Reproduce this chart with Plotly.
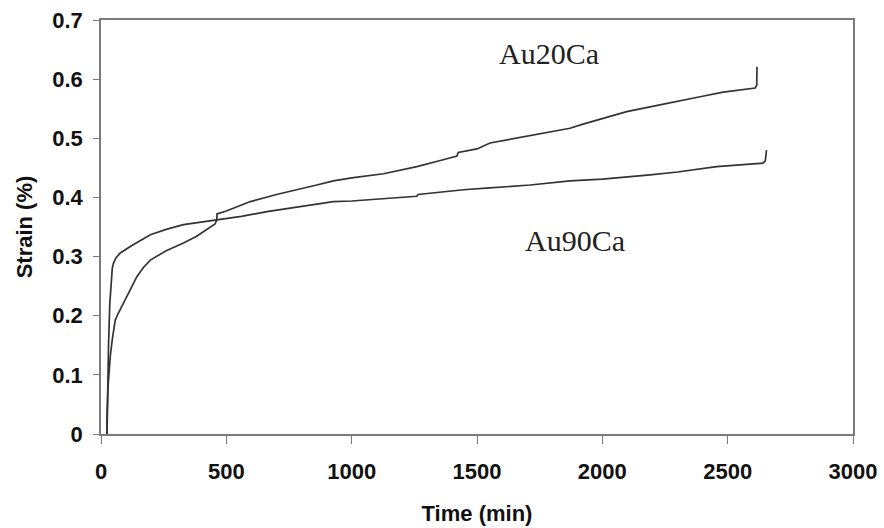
import plotly.graph_objects as go

# Au20Ca series (time in min, strain in %)
au20_time = [24, 24, 28, 33, 37, 45, 57, 70, 90, 115, 143, 170, 197, 260, 329, 380, 422, 455,
             462, 463, 500, 596, 700, 795, 861, 927, 1000, 1127, 1200, 1260, 1350, 1420, 1425,
             1500, 1552, 1650, 1792, 1871, 1923, 2000, 2097, 2200, 2322, 2400, 2482, 2550,
             2610, 2616, 2617]
au20_strain = [0, 0.03, 0.08, 0.11, 0.131, 0.16, 0.193, 0.205, 0.222, 0.245, 0.266, 0.282, 0.294,
               0.31, 0.323, 0.334, 0.345, 0.355, 0.362, 0.372, 0.377, 0.393, 0.405, 0.414, 0.421,
               0.428, 0.433, 0.440, 0.446, 0.452, 0.462, 0.470, 0.476, 0.482, 0.492, 0.500,
               0.511, 0.517, 0.524, 0.533, 0.545, 0.554, 0.565, 0.571, 0.578, 0.582, 0.585,
               0.590, 0.621]

# Au90Ca series
au90_time = [24, 26, 30, 35, 40, 45, 50, 60, 77, 120, 197, 260, 329, 400, 462, 560, 662, 795,
             927, 1000, 1100, 1260, 1265, 1350, 1446, 1550, 1712, 1871, 2000, 2191, 2300, 2456,
             2550, 2641, 2650, 2655]
au90_strain = [0, 0.08, 0.15, 0.22, 0.26, 0.28, 0.289, 0.298, 0.306, 0.318, 0.337, 0.346, 0.354,
               0.358, 0.362, 0.368, 0.376, 0.384, 0.393, 0.394, 0.397, 0.402, 0.405, 0.409,
               0.413, 0.416, 0.421, 0.428, 0.431, 0.438, 0.443, 0.452, 0.455, 0.458, 0.462, 0.48]

x_ticks = [0, 500, 1000, 1500, 2000, 2500, 3000]
y_ticks = [0, 0.1, 0.2, 0.3, 0.4, 0.5, 0.6, 0.7]
y_tick_labels = ["0", "0.1", "0.2", "0.3", "0.4", "0.5", "0.6", "0.7"]

line_color = "#333333"
axis_color = "#7a7a80"

fig = go.Figure()
fig.add_trace(go.Scatter(x=au20_time, y=au20_strain, mode="lines", name="Au20Ca",
                         line=dict(color=line_color, width=1.7)))
fig.add_trace(go.Scatter(x=au90_time, y=au90_strain, mode="lines", name="Au90Ca",
                         line=dict(color=line_color, width=1.7)))

fig.add_annotation(x=1786, y=0.643, text="Au20Ca", showarrow=False,
                   font=dict(family="Liberation Serif, Times New Roman, serif", size=30, color="#222"))
fig.add_annotation(x=1890, y=0.327, text="Au90Ca", showarrow=False,
                   font=dict(family="Liberation Serif, Times New Roman, serif", size=30, color="#222"))

axis_font = dict(family="Liberation Sans, Arial, sans-serif", size=22, color="#111")

fig.update_layout(
    width=884, height=528,
    margin=dict(l=101, r=31, t=20, b=94),
    paper_bgcolor="white", plot_bgcolor="white",
    showlegend=False,
    font=dict(family="Liberation Sans, Arial, sans-serif", color="#111"),
)
fig.update_xaxes(
    range=[0, 3000], tickvals=x_ticks, ticktext=[str(v) for v in x_ticks],
    showgrid=False, zeroline=False, automargin=False,
    showline=True, linecolor=axis_color, linewidth=1.5, mirror=True,
    ticks="outside", ticklen=8, tickcolor=axis_color, tickwidth=1,
    tickfont=dict(**axis_font, weight="bold"), ticklabelstandoff=9,
    title=dict(text="<b>Time (min)</b>", font=axis_font, standoff=22),
)
fig.update_yaxes(
    range=[0, 0.7], tickvals=y_ticks, ticktext=y_tick_labels,
    showgrid=False, zeroline=False, automargin=False,
    showline=True, linecolor=axis_color, linewidth=1.5, mirror=True,
    ticks="outside", ticklen=6, tickcolor=axis_color, tickwidth=1,
    tickfont=dict(**axis_font, weight="bold"), ticklabelstandoff=6,
    title=dict(text="<b>Strain (%)</b>", font=axis_font, standoff=14),
)

fig.write_html("out.html")
